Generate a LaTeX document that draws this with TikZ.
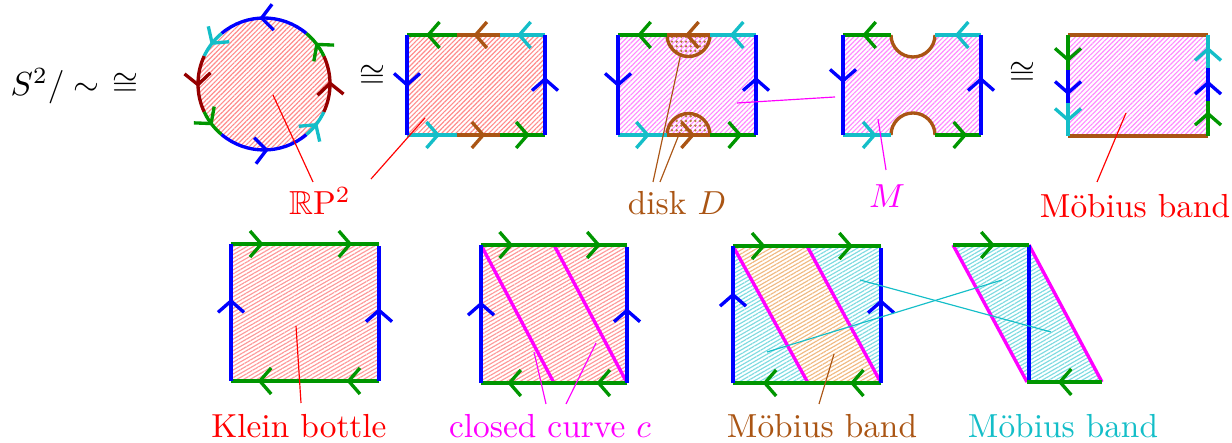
\documentclass[tikz,border=0pt]{standalone}
\usepackage{fontspec}
\usepackage{amssymb}
\usetikzlibrary{decorations.markings,arrows.meta,patterns.meta}
\definecolor{mybrown}{RGB}{170,85,20}
\definecolor{maroon}{RGB}{150,0,0}
\definecolor{mygreen}{RGB}{0,150,0}
\definecolor{mycyan}{RGB}{20,190,200}
\definecolor{mymag}{RGB}{255,0,255}
\tikzset{
  bdry/.style={line width=1pt},
  barb/.tip={Straight Barb[length=3.4pt,width=7.8pt]},
  arr/.style={postaction={decorate},decoration={markings,
      mark=at position #1 with {\arrow{barb}}}},
  arr/.default=0.5,
  arrtwo/.style 2 args={postaction={decorate},decoration={markings,
      mark=at position #1 with {\arrow{barb}},
      mark=at position #2 with {\arrow{barb}}}},
  hatch/.style={pattern={Lines[angle=45,distance=1pt,line width=0.35pt]},pattern color=#1},
  hatchb/.style={pattern={Lines[angle=30,distance=1pt,line width=0.35pt]},pattern color=#1},
  pointer/.style={line width=0.35pt},
  lab/.style={anchor=base,inner sep=0pt},
}
\begin{document}
\begin{tikzpicture}[x=0.3pt,y=-0.3pt]
\useasboundingbox (0,0) rectangle (1232,443);

% quotient and isomorphisms
\node[lab,anchor=base west] (q) at (10,96) {$S^2/\sim$};
\node[lab] (iso1) at (125,94) {$\cong$};
\node[lab] (iso2) at (372,86) {$\cong$};
\node[lab] (iso3) at (1022,83) {$\cong$};

% disk with antipodal boundary
\fill[hatch=red!45] (264,84) circle[radius=66];
\begin{scope}[shift={(264,84)}]
\foreach \a/\b/\c in {50/130/blue,130/155/mycyan,155/205/maroon,205/230/mygreen,
    230/310/blue,310/335/mycyan,335/385/maroon,385/410/mygreen}
  \draw[bdry,\c,arr=0.55] (-\a:66) arc[start angle=-\a,end angle=-\b,radius=66];
\end{scope}

% square for RP2
\fill[hatch=red!45] (407,35) rectangle (545,135);
\draw[bdry,mygreen,arr=0.62] (457,35) -- (407,35);
\draw[bdry,mybrown,arr=0.62] (500,35) -- (457,35);
\draw[bdry,mycyan,arr=0.62] (545,35) -- (500,35);
\draw[bdry,mycyan,arr=0.66] (407,135) -- (457,135);
\draw[bdry,mybrown,arr=0.66] (457,135) -- (500,135);
\draw[bdry,mygreen,arr=0.66] (500,135) -- (545,135);
\draw[bdry,blue,arr=0.52] (407,35) -- (407,135);
\draw[bdry,blue,arr=0.58] (545,135) -- (545,35);

% square with disk D
\fill[hatch=mymag!45] (618,35) rectangle (756,135);
\fill[pattern={Dots[distance=1.4pt,radius=0.4pt]},pattern color=mybrown!80]
  (667,35) arc[start angle=180,end angle=0,radius=21.5] -- cycle;
\fill[pattern={Dots[distance=1.4pt,radius=0.4pt]},pattern color=mybrown!80]
  (667,135) arc[start angle=180,end angle=360,radius=21.5] -- cycle;
\draw[bdry,mybrown] (667,35) arc[start angle=180,end angle=0,radius=21.5];
\draw[bdry,mybrown] (667,135) arc[start angle=180,end angle=360,radius=21.5];
\draw[bdry,mygreen,arr=0.61] (667,35) -- (618,35);
\draw[bdry,mybrown,arr=0.58] (710,35) -- (667,35);
\draw[bdry,mycyan,arr=0.57] (756,35) -- (710,35);
\draw[bdry,mycyan,arr=0.65] (618,135) -- (667,135);
\draw[bdry,mybrown,arr=0.65] (667,135) -- (710,135);
\draw[bdry,mygreen,arr=0.7] (710,135) -- (756,135);
\draw[bdry,blue,arr=0.52] (618,35) -- (618,135);
\draw[bdry,blue,arr=0.58] (756,135) -- (756,35);

% M = square minus disk
\fill[hatch=mymag!45] (843,35) -- (891,35) arc[start angle=180,end angle=0,radius=22]
  -- (981,35) -- (981,135) -- (935,135) arc[start angle=0,end angle=-180,radius=22]
  -- (843,135) -- cycle;
\draw[bdry,mybrown] (891,35) arc[start angle=180,end angle=0,radius=22];
\draw[bdry,mybrown] (935,135) arc[start angle=0,end angle=-180,radius=22];
\draw[bdry,mygreen,arr=0.6] (891,35) -- (843,35);
\draw[bdry,mycyan,arr=0.57] (981,35) -- (935,35);
\draw[bdry,mycyan,arr=0.7] (843,135) -- (891,135);
\draw[bdry,mygreen,arr=0.7] (935,135) -- (981,135);
\draw[bdry,blue,arr=0.48] (843,35) -- (843,135);
\draw[bdry,blue,arr=0.58] (981,135) -- (981,35);

% Moebius band, top row
\fill[hatch=mymag!45] (1068,35) rectangle (1208,136);
\draw[bdry,mybrown] (1068,35) -- (1208,35);
\draw[bdry,mybrown] (1068,136) -- (1208,136);
\draw[bdry,mygreen,arr=0.77] (1068,35) -- (1068,70);
\draw[bdry,blue,arr=0.76] (1068,70) -- (1068,103);
\draw[bdry,mycyan,arr=0.58] (1068,103) -- (1068,136);
\draw[bdry,mygreen,arr=0.7] (1208,136) -- (1208,101);
\draw[bdry,blue,arr=0.62] (1208,101) -- (1208,68);
\draw[bdry,mycyan,arr=0.64] (1208,68) -- (1208,35);

% Klein bottle
\fill[hatchb=red!40] (231,244) rectangle (379,381);
\draw[bdry,mygreen,arrtwo={0.22}{0.82}] (231,244) -- (379,244);
\draw[bdry,mygreen,arrtwo={0.22}{0.82}] (379,381) -- (231,381);
\draw[bdry,blue,arr=0.6] (231,381) -- (231,244);
\draw[bdry,blue,arr=0.54] (379,381) -- (379,246);

% Klein bottle with closed curve c
\fill[hatchb=red!40] (481,245) rectangle (627,383);
\draw[bdry,mymag] (481,245) -- (554,383);
\draw[bdry,mymag] (554,245) -- (627,383);
\draw[bdry,mygreen,arrtwo={0.22}{0.82}] (481,245) -- (627,245);
\draw[bdry,mygreen,arrtwo={0.21}{0.82}] (627,383) -- (481,383);
\draw[bdry,blue,arr=0.59] (481,383) -- (481,245);
\draw[bdry,blue,arr=0.55] (627,383) -- (627,247);

% Klein bottle cut along c
\fill[hatchb=orange!60!brown!55] (733,246) -- (807,246) -- (881,383) -- (808,383) -- cycle;
\fill[hatchb=mycyan!55] (733,246) -- (808,383) -- (733,383) -- cycle;
\fill[hatchb=mycyan!55] (807,246) -- (881,246) -- (881,383) -- cycle;
\draw[bdry,mymag] (733,246) -- (808,383);
\draw[bdry,mymag] (807,246) -- (881,383);
\draw[bdry,mygreen,arrtwo={0.22}{0.81}] (733,246) -- (881,246);
\draw[bdry,mygreen,arrtwo={0.21}{0.8}] (881,383) -- (733,383);
\draw[bdry,blue,arr=0.66] (733,383) -- (733,246);
\draw[bdry,blue,arr=0.62] (881,383) -- (881,248);

% the two pieces glued
\fill[hatchb=mycyan!55] (953,245) -- (1029,245) -- (1102,382) -- (1027,382) -- cycle;
\draw[bdry,mymag] (953,245) -- (1027,382);
\draw[bdry,mymag] (1029,245) -- (1102,382);
\draw[bdry,blue] (1029,245) -- (1029,382);
\draw[bdry,mygreen,arr=0.55] (953,245) -- (1029,245);
\draw[bdry,mygreen,arr=0.59] (1102,382) -- (1027,382);

% labels
\node[lab,red] (rp) at (320,215) {$\mathbb{R}\mathrm{P}^2$};
\node[lab,mybrown] (disk) at (677,215) {disk $D$};
\node[lab,mymag] (mlab) at (887,208) {$M$};
\node[lab,red] (mob1) at (1135,218) {Möbius band};
\node[lab,red] (klein) at (299,438) {Klein bottle};
\node[lab,mymag] (curve) at (550,438) {closed curve $c$};
\node[lab,mybrown] (mob2) at (822,438) {Möbius band};
\node[lab,mycyan] (mob3) at (1063,438) {Möbius band};

% pointer ends
\coordinate (rpc) at (273,95);
\coordinate (rpr) at (425,118);
\coordinate (rpe1) at (313,182);
\coordinate (rpe2) at (371,179);
\coordinate (dtop) at (681,53);
\coordinate (dbot) at (680,132);
\coordinate (de1) at (653,182);
\coordinate (de2) at (660,182);
\coordinate (msq) at (737,103);
\coordinate (mcut) at (835,97);
\coordinate (mpt) at (878,119);
\coordinate (me) at (886,170);
\coordinate (mbpt) at (1126,113);
\coordinate (mbe) at (1097,182);
\coordinate (kpt) at (296,326);
\coordinate (ke) at (301,403);
\coordinate (cpt1) at (534,352);
\coordinate (cpt2) at (596,343);
\coordinate (ce1) at (546,404);
\coordinate (ce2) at (566,404);
\coordinate (bpt) at (834,354);
\coordinate (be) at (819,404);
\coordinate (cyl) at (767,352);
\coordinate (cyr) at (860,280);
\coordinate (pal) at (1002,280);
\coordinate (par) at (1051,332);

\draw[pointer,red] (rpc) -- (rpe1);
\draw[pointer,red] (rpr) -- (rpe2);
\draw[pointer,mybrown] (dtop) -- (de1);
\draw[pointer,mybrown] (dbot) -- (de2);
\draw[pointer,mymag] (msq) -- (mcut);
\draw[pointer,mymag] (mpt) -- (me);
\draw[pointer,red] (mbpt) -- (mbe);
\draw[pointer,red] (kpt) -- (ke);
\draw[pointer,mymag] (cpt1) -- (ce1);
\draw[pointer,mymag] (cpt2) -- (ce2);
\draw[pointer,mybrown] (bpt) -- (be);
\draw[pointer,mycyan] (cyr) -- (par);
\draw[pointer,mycyan] (cyl) -- (pal);
\end{tikzpicture}
\end{document}
